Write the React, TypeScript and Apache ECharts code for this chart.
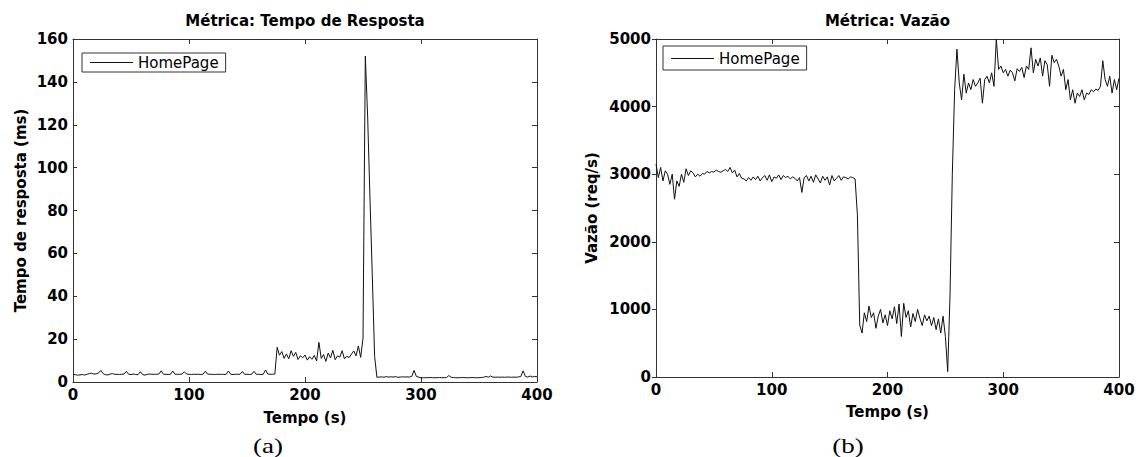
import React, { useEffect, useRef } from "react";
import * as echarts from "echarts";

// ---- data (sampled every SAMPLE_STEP_S seconds, t = 0 .. 400 s) ----
const SAMPLE_STEP_S = 2;
const SERIES_NAME = "HomePage";

// Tempo de resposta (ms)
const RESPONSE_MS = [
  3.6, 3.4, 3.2, 3.3, 3.5, 3.2, 3.6, 3.9, 4.1, 3.7,
  3.8, 4.2, 5.4, 3.9, 3.4, 3.3, 3.7, 3.9, 3.6, 3.6,
  3.5, 3.6, 3.7, 5.0, 3.6, 3.5, 3.7, 3.5, 3.4, 4.8,
  3.5, 3.2, 3.6, 3.7, 3.6, 3.6, 3.6, 3.7, 5.2, 3.6,
  3.6, 3.5, 3.6, 5.1, 3.6, 3.6, 3.6, 3.7, 4.8, 3.7,
  3.6, 3.5, 3.6, 3.6, 3.6, 3.5, 3.6, 5.0, 3.7, 3.6,
  3.6, 3.5, 3.6, 3.6, 3.6, 3.5, 3.6, 5.1, 3.6, 3.5,
  3.6, 3.6, 3.6, 4.9, 3.6, 3.6, 3.5, 3.6, 5.0, 3.6,
  3.6, 3.5, 3.6, 5.6, 3.7, 3.6, 3.6, 3.7, 16.2, 12.5,
  14.2, 11.0, 13.1, 10.8, 14.6, 12.0, 13.8, 10.5, 12.2, 11.3,
  12.6, 10.2, 11.8, 10.6, 12.4, 9.8, 18.5, 11.0, 12.8, 9.6,
  13.5, 11.2, 14.8, 10.4, 12.2, 11.6, 14.6, 10.8, 12.0, 11.4,
  13.0, 14.5, 12.2, 16.8, 11.5, 20.5, 152, 124, 86, 50,
  12, 2.2, 2.3, 2.4, 2.2, 2.5, 2.3, 2.4, 2.3, 2.5,
  2.2, 2.3, 2.4, 2.3, 2.4, 2.3, 2.6, 5.4, 2.6, 2.3,
  1.9, 2.0, 2.0, 2.0, 2.1, 2.0, 2.0, 2.0, 2.1, 2.0,
  2.0, 2.1, 3.0, 2.2, 2.1, 2.0, 2.0, 2.0, 2.1, 2.0,
  2.0, 2.0, 2.1, 2.0, 2.0, 2.0, 2.1, 2.2, 2.6, 2.2,
  2.8, 2.3, 2.2, 2.3, 2.2, 2.3, 2.2, 2.3, 2.3, 2.2,
  2.3, 2.2, 2.4, 2.5, 5.2, 2.6, 2.3, 2.8, 2.3, 2.6,
  2.4,
];

// Vazão (req/s)
const THROUGHPUT_REQ_S = [
  3150, 2950, 3100, 2900, 3050, 3000, 2850, 3000, 2630, 2900,
  2820, 3000, 2880, 3080, 2980, 3050, 3020, 2960, 3000, 2970,
  3010, 3000, 3040, 3020, 3040, 3030, 3060, 3040, 3030, 3050,
  3070, 3040, 3100, 3020, 3060, 2960, 3010, 2940, 2930, 2900,
  2950, 2910, 2960, 2920, 2970, 2900, 2950, 2980, 2910, 2990,
  2890, 2960, 2940, 2990, 2920, 2980, 2950, 2970, 2930, 2960,
  2940, 2900, 2950, 2730, 2950, 2980, 2900, 2970, 2880, 2990,
  2930, 2870, 2970, 2910, 2960, 2840, 2980, 2900, 2940, 2980,
  2910, 2960, 2950, 2930, 2960, 2950, 2930, 2400, 770, 650,
  950, 820, 1050, 880, 950, 720, 900, 1000, 800, 920,
  760, 980, 860, 1040, 790, 1080, 600, 1090, 880, 980,
  740, 940, 820, 1000, 870, 760, 920, 830, 900, 760,
  880, 700, 860, 650, 900, 600, 80, 1200, 3000, 4250,
  4850, 4350, 4100, 4480, 4200, 4350, 4250, 4400, 4300, 4350,
  4420, 4050, 4400, 4450, 4350, 4500, 4300, 5000, 4550, 4600,
  4500, 4550, 4450, 4540, 4500, 4380, 4560, 4520, 4580, 4430,
  4600, 4550, 4870, 4500, 4700, 4600, 4720, 4450, 4680, 4620,
  4300, 4760, 4650, 4700, 4600, 4450, 4550, 4250, 4400, 4100,
  4250, 4050, 4200, 4150, 4250, 4100, 4200, 4180, 4250, 4220,
  4260, 4240, 4300, 4680, 4400, 4300, 4450, 4200, 4400, 4250,
  4420,
];

const X_MIN = 0;
const X_MAX = 400;
const X_INTERVAL = 100;
const Y_MAX = [160, 5000];
const Y_INTERVAL = [20, 1000];

const TITLES = ["Métrica: Tempo de Resposta", "Métrica: Vazão"];
const X_NAME = "Tempo (s)";
const Y_NAMES = ["Tempo de resposta (ms)", "Vazão (req/s)"];
const PANEL_LABELS = ["(a)", "(b)"];

// ---- styling / layout ----
const FONT = "'DejaVu Sans', Verdana, sans-serif";
const AXIS_COLOR = "#333";
const GRIDS = [
  { left: 73, top: 39, width: 464, height: 343 },
  { left: 656, top: 39, width: 463, height: 338 },
];
const X_NAME_GAP = [28, 27];
const Y_NAME_GAP = [45, 57];
const LEFT_TICK_INSIDE = [true, false];
const LEGEND_BOX = [
  { left: 82, top: 53, padding: [2, 7, 2, 8] },
  { left: 663, top: 46, padding: [5, 7, 4, 8] },
];

function buildOption() {
  const seriesValues = [RESPONSE_MS, THROUGHPUT_REQ_S];
  const lineStyle = { color: AXIS_COLOR, width: 1 };
  const labelStyle = {
    color: "#000",
    fontFamily: FONT,
    fontWeight: "bold" as const,
    fontSize: 15,
  };
  const plain = (v: number) => String(v);
  const xAxis: any[] = [];
  const yAxis: any[] = [];
  const series: any[] = [];
  const legend: any[] = [];
  const graphic: any[] = [];

  GRIDS.forEach((g, i) => {
    xAxis.push({
      type: "value",
      gridIndex: i,
      position: "bottom",
      min: X_MIN,
      max: X_MAX,
      interval: X_INTERVAL,
      axisLine: { show: true, onZero: false, lineStyle },
      axisTick: { show: true, inside: true, length: 5, lineStyle },
      axisLabel: { ...labelStyle, margin: 5, formatter: plain },
      splitLine: { show: false },
      name: X_NAME,
      nameLocation: "middle",
      nameGap: X_NAME_GAP[i],
      nameTextStyle: labelStyle,
    });
    xAxis.push({
      type: "value",
      gridIndex: i,
      position: "top",
      min: X_MIN,
      max: X_MAX,
      interval: X_INTERVAL,
      axisLine: { show: true, onZero: false, lineStyle },
      axisTick: { show: true, inside: true, length: 5, lineStyle },
      axisLabel: { show: false },
      splitLine: { show: false },
    });
    yAxis.push({
      type: "value",
      gridIndex: i,
      position: "left",
      min: 0,
      max: Y_MAX[i],
      interval: Y_INTERVAL[i],
      axisLine: { show: true, onZero: false, lineStyle },
      axisTick: { show: true, inside: LEFT_TICK_INSIDE[i], length: 4, lineStyle },
      axisLabel: { ...labelStyle, margin: 5, formatter: plain },
      splitLine: { show: false },
      name: Y_NAMES[i],
      nameLocation: "middle",
      nameGap: Y_NAME_GAP[i],
      nameTextStyle: labelStyle,
    });
    yAxis.push({
      type: "value",
      gridIndex: i,
      position: "right",
      min: 0,
      max: Y_MAX[i],
      interval: Y_INTERVAL[i],
      axisLine: { show: true, onZero: false, lineStyle },
      axisTick: { show: true, inside: true, length: 5, lineStyle },
      axisLabel: { show: false },
      splitLine: { show: false },
    });
    series.push({
      type: "line",
      name: SERIES_NAME,
      xAxisIndex: i * 2,
      yAxisIndex: i * 2,
      data: seriesValues[i].map((v, k) => [k * SAMPLE_STEP_S, v]),
      showSymbol: false,
      symbol: "none",
      lineStyle: { color: "#111", width: 1 },
      itemStyle: { color: "#111" },
      clip: true,
    });
    legend.push({
      data: [{ name: SERIES_NAME, icon: "rect" }],
      left: LEGEND_BOX[i].left,
      top: LEGEND_BOX[i].top,
      padding: LEGEND_BOX[i].padding,
      orient: "vertical",
      borderColor: AXIS_COLOR,
      borderWidth: 1,
      backgroundColor: "#fff",
      itemWidth: 43,
      itemHeight: 1,
      itemStyle: { color: "#111", borderWidth: 0 },
      selectedMode: false,
      textStyle: { color: "#000", fontFamily: FONT, fontSize: 15, lineHeight: 15 },
    });
    const cx = g.left + g.width / 2;
    graphic.push({
      type: "text",
      x: cx,
      y: 21,
      style: {
        text: TITLES[i],
        fill: "#000",
        font: `bold 15px ${FONT}`,
        textAlign: "center",
        textVerticalAlign: "middle",
      },
    });
    graphic.push({
      type: "text",
      x: i === 0 ? 268 : 848,
      y: 446,
      scaleX: 1.35,
      style: {
        text: PANEL_LABELS[i],
        fill: "#000",
        font: "20px 'Liberation Serif', 'Times New Roman', serif",
        textAlign: "center",
        textVerticalAlign: "middle",
      },
    });
  });

  return {
    animation: false,
    backgroundColor: "#fff",
    grid: GRIDS.map((g) => ({ ...g, containLabel: false })),
    xAxis,
    yAxis,
    series,
    legend,
    graphic,
  };
}

export default function App() {
  const ref = useRef<HTMLDivElement>(null);
  useEffect(() => {
    document.body.style.margin = "0";
    if (!ref.current) return;
    const chart = echarts.init(ref.current, undefined, { renderer: "svg" });
    chart.setOption(buildOption() as any);
    return () => chart.dispose();
  }, []);
  return <div ref={ref} style={{ width: 1140, height: 457 }} />;
}
